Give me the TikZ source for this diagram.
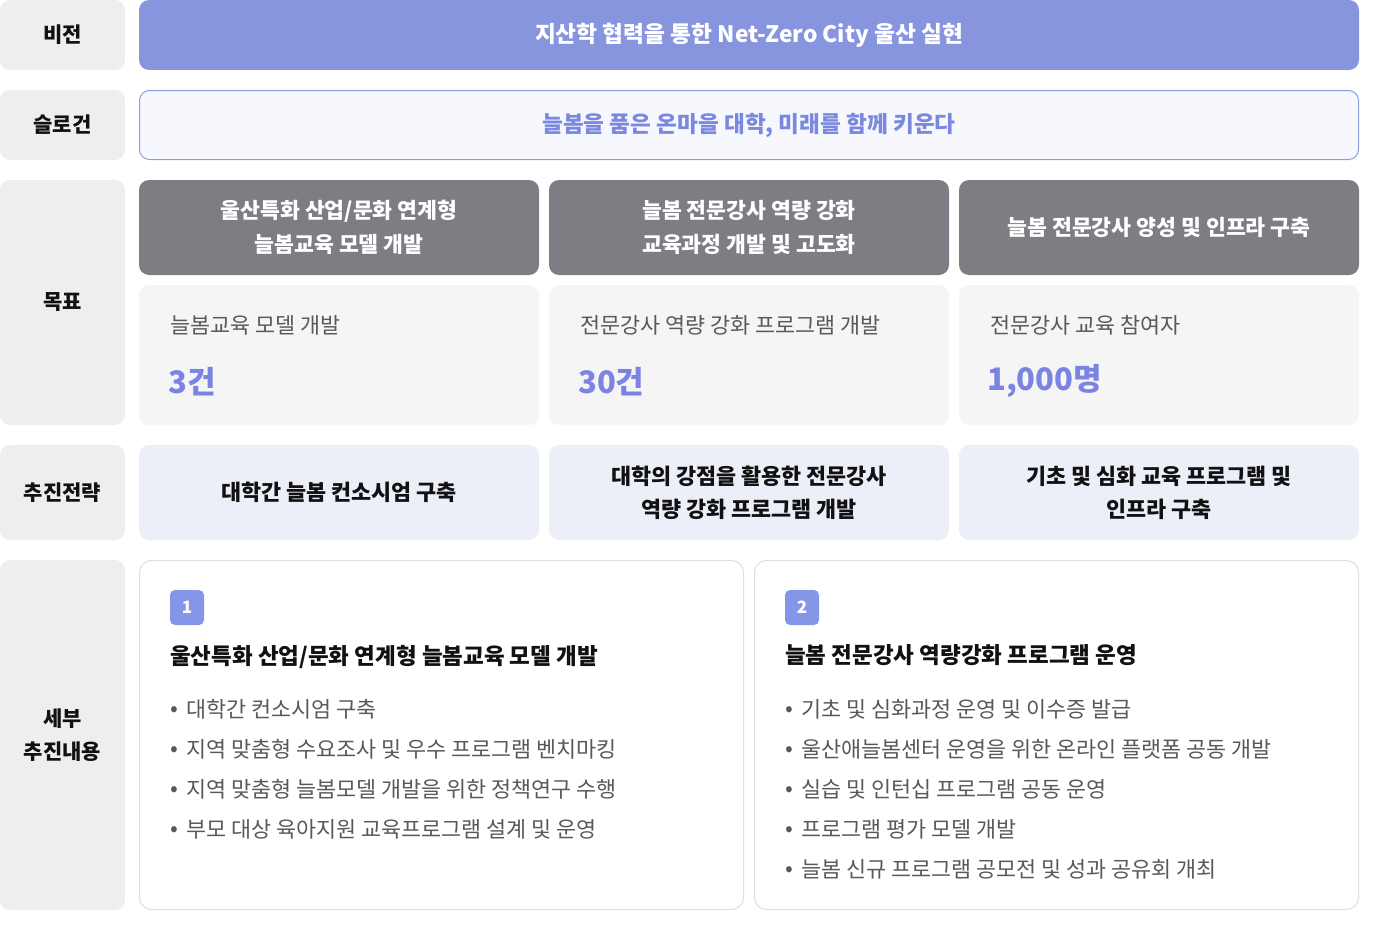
\documentclass[tikz,border=0pt]{standalone}
\usepackage{fontspec}
\setmainfont{Noto Sans CJK KR}
\definecolor{labelbg}{HTML}{EDEEEE}
\definecolor{visfill}{HTML}{8795DE}
\definecolor{slofill}{HTML}{F7F8FD}
\definecolor{sloline}{HTML}{8C9CDD}
\definecolor{slotext}{HTML}{7B88E0}
\definecolor{hdrfill}{HTML}{7E7D84}
\definecolor{goalfill}{HTML}{F5F5F5}
\definecolor{numcol}{HTML}{7B83E3}
\definecolor{strfill}{HTML}{ECEEF8}
\definecolor{cardline}{HTML}{DEDEDE}
\definecolor{badgefill}{HTML}{8595E8}
\definecolor{graytext}{HTML}{595959}
\definecolor{darktext}{HTML}{111111}
\tikzset{
  lbl/.style={fill=labelbg, rounded corners=10pt, inner sep=0pt, align=center, text=darktext,
    font=\bfseries\fontsize{21}{33}\selectfont, minimum width=125pt},
  visbox/.style={fill=visfill, rounded corners=10pt, inner sep=0pt, text=white,
    font=\bfseries\fontsize{22.7}{26}\selectfont, minimum width=1220pt, minimum height=70pt},
  slobox/.style={fill=slofill, draw=sloline, line width=1pt, rounded corners=10pt, inner sep=0pt, text=slotext,
    font=\bfseries\fontsize{22.6}{26}\selectfont, minimum width=1219pt, minimum height=69pt},
  hdrbox/.style={fill=hdrfill, rounded corners=10pt, inner sep=0pt, text=white, align=center,
    font=\bfseries\fontsize{21.6}{34}\selectfont, minimum width=400pt, minimum height=95pt},
  goalbox/.style={fill=goalfill, rounded corners=10pt, inner sep=0pt, minimum width=400pt, minimum height=140pt},
  goaltxt/.style={anchor=west, inner sep=0pt, text=graytext, font=\fontsize{21.8}{24}\selectfont},
  numtxt/.style={anchor=west, inner sep=0pt, text=numcol, font=\bfseries\fontsize{31}{36}\selectfont},
  strbox/.style={fill=strfill, rounded corners=10pt, inner sep=0pt, text=darktext, align=center,
    font=\bfseries\fontsize{21.8}{33}\selectfont, minimum width=400pt, minimum height=95pt},
  cardbox/.style={fill=white, draw=cardline, line width=1pt, rounded corners=12pt, inner sep=0pt,
    minimum width=604pt, minimum height=349pt},
  badge/.style={fill=badgefill, rounded corners=5pt, inner sep=0pt, text=white,
    font=\bfseries\fontsize{17}{20}\selectfont, minimum width=34pt, minimum height=35pt},
  ttl/.style={anchor=west, inner sep=0pt, text=darktext, font=\bfseries\fontsize{22.5}{25}\selectfont},
  bul/.style={anchor=west, inner sep=0pt, text=graytext, font=\fontsize{21.8}{24}\selectfont},
}
\newcommand{\bl}[1]{\makebox[16pt][l]{\raisebox{0.5pt}{\fontsize{23}{23}\selectfont •}}#1}
\begin{document}
\begin{tikzpicture}[x=1pt,y=-1pt]
\useasboundingbox (0,0) rectangle (1384,950);
% labels
\node[lbl, minimum height=70pt] (l1) at (62.5,35) {비전};
\node[lbl, minimum height=70pt] (l2) at (62.5,125) {슬로건};
\node[lbl, minimum height=245pt] (l3) at (62.5,302.5) {목표};
\node[lbl, minimum height=95pt] (l4) at (62.5,492.5) {추진전략};
\node[lbl, minimum height=350pt] (l5) at (62.5,735) {세부\\추진내용};
% vision / slogan
\node[visbox] (vis) at (749,35) {지산학 협력을 통한 Net-Zero City 울산 실현};
\node[slobox] (slo) at (749,125) {늘봄을 품은 온마을 대학, 미래를 함께 키운다};
% goals
\node[hdrbox] (h1) at (339,227.5) {울산특화 산업/문화 연계형\\늘봄교육 모델 개발};
\node[hdrbox] (h2) at (749,227.5) {늘봄 전문강사 역량 강화\\교육과정 개발 및 고도화};
\node[hdrbox] (h3) at (1159,227.5) {늘봄 전문강사 양성 및 인프라 구축};
\node[goalbox] (g1) at (339,355) {};
\node[goalbox] (g2) at (749,355) {};
\node[goalbox] (g3) at (1159,355) {};
\node[goaltxt] (g1t) at (170,325) {늘봄교육 모델 개발};
\node[goaltxt] (g2t) at (580,325) {전문강사 역량 강화 프로그램 개발};
\node[goaltxt] (g3t) at (990,325) {전문강사 교육 참여자};
\node[numtxt] (g1n) at (168,382) {3건};
\node[numtxt] (g2n) at (578,382) {30건};
\node[numtxt] (g3n) at (987,381) {1,000명};
% strategies
\node[strbox] (s1) at (339,492.5) {대학간 늘봄 컨소시엄 구축};
\node[strbox] (s2) at (749,492.5) {대학의 강점을 활용한 전문강사\\역량 강화 프로그램 개발};
\node[strbox] (s3) at (1159,492.5) {기초 및 심화 교육 프로그램 및\\인프라 구축};
% detail cards
\node[cardbox] (c1) at (441.5,735) {};
\node[cardbox] (c2) at (1056.5,735) {};
\node[badge] (b1) at (187,607.5) {1};
\node[badge] (b2) at (802,607.5) {2};
\node[ttl] (t1) at (170,656.5) {울산특화 산업/문화 연계형 늘봄교육 모델 개발};
\node[ttl] (t2) at (785,655.5) {늘봄 전문강사 역량강화 프로그램 운영};
\node[bul] (a1) at (170,709) {\bl{대학간 컨소시엄 구축}};
\node[bul] (a2) at (170,749) {\bl{지역 맞춤형 수요조사 및 우수 프로그램 벤치마킹}};
\node[bul] (a3) at (170,789) {\bl{지역 맞춤형 늘봄모델 개발을 위한 정책연구 수행}};
\node[bul] (a4) at (170,829) {\bl{부모 대상 육아지원 교육프로그램 설계 및 운영}};
\node[bul] (d1) at (785,709) {\bl{기초 및 심화과정 운영 및 이수증 발급}};
\node[bul] (d2) at (785,749) {\bl{울산애늘봄센터 운영을 위한 온라인 플랫폼 공동 개발}};
\node[bul] (d3) at (785,789) {\bl{실습 및 인턴십 프로그램 공동 운영}};
\node[bul] (d4) at (785,829) {\bl{프로그램 평가 모델 개발}};
\node[bul] (d5) at (785,869) {\bl{늘봄 신규 프로그램 공모전 및 성과 공유회 개최}};
\end{tikzpicture}
\end{document}
